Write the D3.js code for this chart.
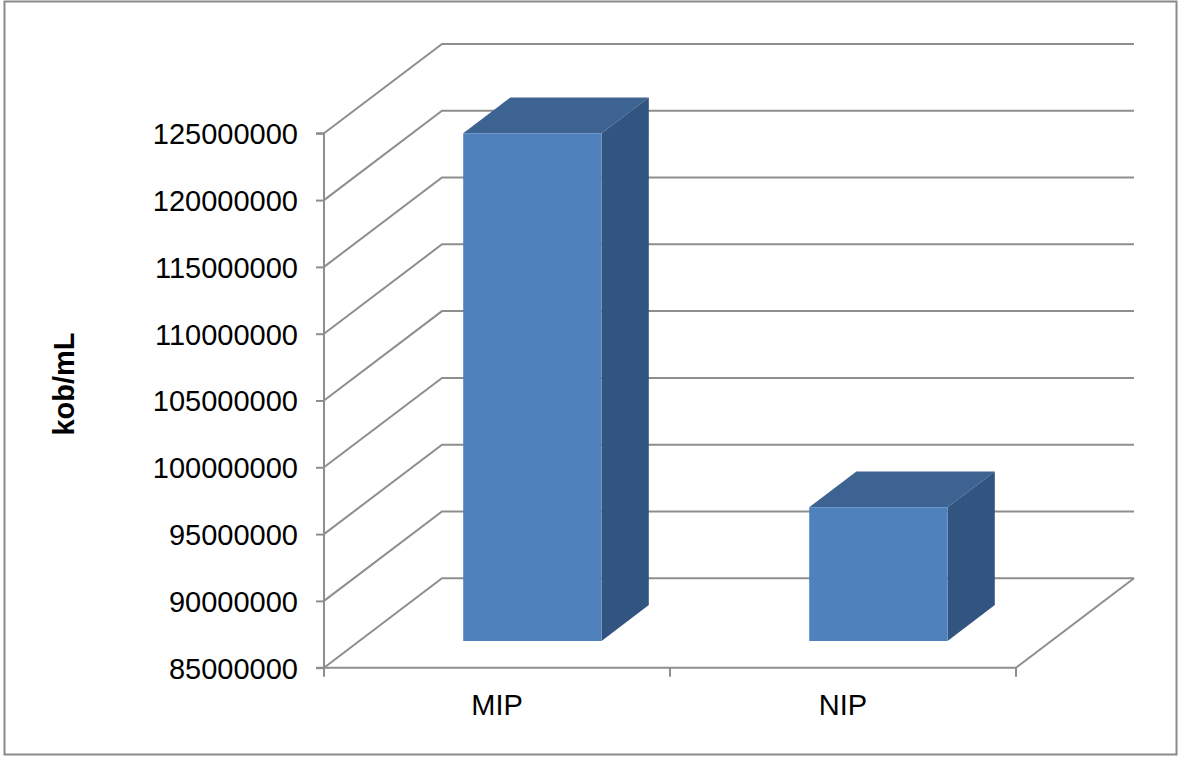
<!DOCTYPE html>
<html>
<head>
<meta charset="utf-8">
<script src="https://cdn.jsdelivr.net/npm/d3@7"></script>
<style>
  html, body { margin: 0; padding: 0; background: #fff; }
  svg { display: block; }
  text { font-family: "Liberation Sans", Arial, sans-serif; fill: #000; }
</style>
</head>
<body>
<svg id="chart" width="1185" height="758"></svg>
<script>
// Data
const categories = ["MIP", "NIP"];
const values = [123000000, 95000000];
const yTicks = [85000000, 90000000, 95000000, 100000000, 105000000,
                110000000, 115000000, 120000000, 125000000];
const yTitle = "kob/mL";

(function () {
  const svg = d3.select("#chart");
  const fontSize = 29;

  // Front-plane geometry and the oblique depth vector
  const plotLeft = 324, plotRight = 1016, plotTop = 133.3, plotBottom = 667.7;
  const DX = 118, DY = -89.4;

  const y = d3.scaleLinear().domain([yTicks[0], yTicks[yTicks.length - 1]]).range([plotBottom, plotTop]);
  const x = d3.scaleBand().domain(categories).range([plotLeft, plotRight])
    .paddingInner(0.6).paddingOuter(0.3);
  const xCat = d3.scaleBand().domain(categories).range([plotLeft, plotRight]);
  // depth position of the single series inside the box (0 = front, 1 = back)
  const z = d3.scaleBand().domain(["s"]).range([0, 1]).paddingInner(0.6).paddingOuter(0.3);

  const P = (px, py, t) => [px + t * DX, py + t * DY];
  const gridColor = "#8e8e8e";

  // outer frame
  svg.append("rect")
    .attr("x", 4.5).attr("y", 1.5).attr("width", 1172).attr("height", 753)
    .attr("fill", "#fff").attr("stroke", "#8a8a8a").attr("stroke-width", 2);

  // gridlines: along the left wall, then across the back wall
  const grid = svg.append("g").attr("fill", "none").attr("stroke", gridColor).attr("stroke-width", 2);
  yTicks.forEach(v => {
    const a = P(plotLeft, y(v), 0), b = P(plotLeft, y(v), 1), c = P(plotRight, y(v), 1);
    grid.append("path").attr("d", d3.line()([a, b, c]));
  });
  // floor right edge
  grid.append("path").attr("d", d3.line()([P(plotRight, plotBottom, 0), P(plotRight, plotBottom, 1)]));

  // y axis on the front-left edge
  const yAxis = svg.append("g")
    .attr("transform", `translate(${plotLeft},0)`)
    .call(d3.axisLeft(y).tickValues(yTicks).tickSize(8).tickPadding(18).tickFormat(d3.format("d")));
  yAxis.select(".domain").attr("stroke", gridColor).attr("stroke-width", 2)
    .attr("d", `M-8,${plotTop}H0V${plotBottom}H-8`);
  yAxis.selectAll(".tick line").attr("stroke", gridColor).attr("stroke-width", 2);
  yAxis.selectAll(".tick text")
    .attr("font-size", fontSize).attr("fill", "#000")
    .attr("font-family", "'Liberation Sans', Arial, sans-serif")
    .attr("dy", "0.36em").attr("x", -26);

  // x axis along the front edge of the floor
  const xAxis = svg.append("g");
  xAxis.append("line").attr("x1", plotLeft).attr("x2", plotRight)
    .attr("y1", plotBottom).attr("y2", plotBottom)
    .attr("stroke", gridColor).attr("stroke-width", 2);
  const bounds = categories.map(c => xCat(c))
    .concat([xCat(categories[categories.length - 1]) + xCat.bandwidth()]);
  xAxis.selectAll("line.tk").data(bounds).join("line").attr("class", "tk")
    .attr("x1", d => d).attr("x2", d => d).attr("y1", plotBottom).attr("y2", plotBottom + 9)
    .attr("stroke", gridColor).attr("stroke-width", 2);
  xAxis.selectAll("text").data(categories).join("text")
    .attr("x", d => xCat(d) + xCat.bandwidth() / 2).attr("y", 714.5)
    .attr("text-anchor", "middle").attr("font-size", fontSize).text(d => d);

  // bars as 3D boxes
  const t0 = z("s"), t1 = z("s") + z.bandwidth();
  const poly = pts => "M" + pts.map(p => p.join(",")).join("L") + "Z";
  const bars = svg.append("g").selectAll("g")
    .data(categories.map((c, i) => ({ c, v: values[i] }))).join("g");
  bars.each(function (d) {
    const g = d3.select(this);
    const x0 = x(d.c), x1 = x(d.c) + x.bandwidth();
    const yt = y(d.v), yb = y(yTicks[0]);
    // top face
    g.append("path").attr("fill", "#3c6392")
      .attr("d", poly([P(x0, yt, t0), P(x1, yt, t0), P(x1, yt, t1), P(x0, yt, t1)]));
    // right side face
    g.append("path").attr("fill", "#325480")
      .attr("d", poly([P(x1, yt, t0), P(x1, yt, t1), P(x1, yb, t1), P(x1, yb, t0)]));
    // front face
    g.append("path").attr("fill", "#4f81bd")
      .attr("d", poly([P(x0, yt, t0), P(x1, yt, t0), P(x1, yb, t0), P(x0, yb, t0)]));
  });

  // y axis title
  svg.append("text")
    .attr("transform", "translate(73.5,384) rotate(-90)")
    .attr("text-anchor", "middle").attr("font-size", fontSize).attr("font-weight", "bold")
    .text(yTitle);
})();
</script>
</body>
</html>
